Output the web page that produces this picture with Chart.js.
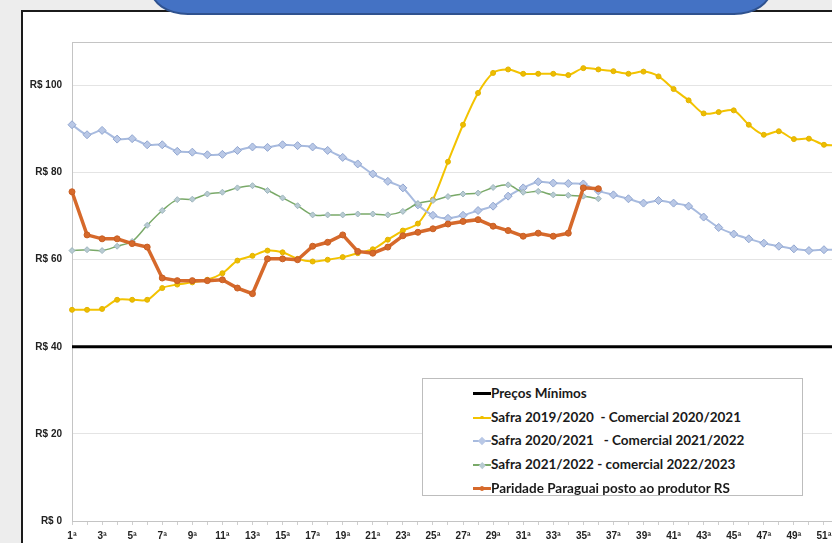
<!DOCTYPE html>
<html>
<head>
<meta charset="utf-8">
<script src="https://cdn.jsdelivr.net/npm/chart.js@4.4.0/dist/chart.umd.min.js"></script>
<style>
html, body { margin: 0; padding: 0; width: 832px; height: 543px; overflow: hidden; background: #ededed; }
#painel { position: absolute; left: 21px; top: 10px; width: 900px; height: 600px; background: #fff;
  border-left: 2px solid #1b1b1b; border-top: 2px solid #1b1b1b; }
#faixa { position: absolute; left: 150px; top: -40px; width: 618px; height: 51px; background: #4472c4;
  border: 2px solid #2f528f; border-radius: 0 0 38px 38px / 0 0 26px 26px; z-index: 3; }
#grafico { position: absolute; left: 0; top: 0; }
#legenda { position: absolute; left: 422px; top: 378px; width: 381px; height: 118px; background: #fff;
  border: 1px solid #bdbdbd; padding-top: 3px; box-sizing: border-box;
  font-family: Lato, sans-serif; font-weight: 700; font-size: 13.5px; color: #1a1a1a; }
#legenda .item { position: relative; height: 23.7px; line-height: 23.7px; padding-left: 68px; white-space: pre; }
#legenda .linha { position: absolute; left: 50px; width: 18px; top: 50%; }
#legenda .marca { position: absolute; left: 55px; top: 50%; }
</style>
</head>
<body>
<div id="painel"></div>
<div id="faixa"></div>
<canvas id="grafico" width="850" height="560"></canvas>
<div id="legenda"></div>
<script>
const semanas = ["1ª", "2ª", "3ª", "4ª", "5ª", "6ª", "7ª", "8ª", "9ª", "10ª", "11ª", "12ª", "13ª",
    "14ª", "15ª", "16ª", "17ª", "18ª", "19ª", "20ª", "21ª", "22ª", "23ª", "24ª", "25ª", "26ª",
    "27ª", "28ª", "29ª", "30ª", "31ª", "32ª", "33ª", "34ª", "35ª", "36ª", "37ª", "38ª", "39ª",
    "40ª", "41ª", "42ª", "43ª", "44ª", "45ª", "46ª", "47ª", "48ª", "49ª", "50ª", "51ª", "52ª"]; // 52 semanas

const precoMinimo = [40, 40, 40, 40, 40, 40, 40, 40, 40, 40, 40, 40, 40, 40, 40, 40, 40, 40, 40, 40,
    40, 40, 40, 40, 40, 40, 40, 40, 40, 40, 40, 40, 40, 40, 40, 40, 40, 40, 40, 40,
    40, 40, 40, 40, 40, 40, 40, 40, 40, 40, 40, 40];

const safra1920 = [48.5, 48.5, 48.7, 50.8, 50.8, 50.8, 53.5, 54.3, 54.8, 55.4,
    56.9, 59.8, 60.9, 62.1, 61.7, 60.2, 59.6, 60.0, 60.6, 61.5,
    62.4, 64.6, 66.7, 68.3, 73.8, 82.5, 91.0, 98.3, 102.9, 103.7,
    102.7, 102.7, 102.7, 102.4, 104.0, 103.7, 103.3, 102.7, 103.2, 102.1,
    99.2, 96.6, 93.6, 93.9, 94.3, 91.0, 88.7, 89.5, 87.7, 87.8,
    86.4, 86.3];

const safra2021 = [91.0, 88.7, 89.7, 87.7, 87.8, 86.4, 86.4, 84.9, 84.7, 84.1,
    84.2, 85.1, 85.9, 85.8, 86.4, 86.2, 85.9, 85.1, 83.5, 82.0,
    79.7, 78.0, 76.5, 72.6, 70.2, 69.5, 70.2, 71.3, 72.3, 74.6,
    76.5, 77.9, 77.6, 77.5, 77.4, 75.8, 74.9, 74.0, 73.0, 73.6,
    73.0, 72.3, 69.8, 67.4, 65.9, 64.8, 63.8, 63.1, 62.5, 62.1,
    62.3, 62.3];

const safra2122 = [62.1, 62.3, 62.1, 63.1, 64.2, 67.9, 71.3, 73.8, 73.9, 75.1,
    75.5, 76.5, 77.0, 75.9, 74.2, 72.4, 70.3, 70.3, 70.3, 70.5,
    70.5, 70.3, 71.1, 72.9, 73.6, 74.5, 75.1, 75.3, 76.6, 77.2,
    75.5, 75.7, 74.9, 74.8, 74.6, 74.0];

const paridade = [75.6, 65.7, 64.8, 64.8, 63.7, 62.9, 55.8, 55.2, 55.2, 55.2,
    55.4, 53.5, 52.2, 60.2, 60.2, 60.0, 63.1, 64.0, 65.7, 61.9,
    61.5, 62.9, 65.5, 66.3, 67.1, 68.2, 68.8, 69.2, 67.7, 66.7,
    65.4, 66.1, 65.4, 66.1, 76.5, 76.3];

const data = {
    labels: semanas,
    datasets: [{
        label: 'Preços Mínimos',
        data: precoMinimo,
        borderColor: '#000000',
        borderWidth: 3,
        pointRadius: 0,
        order: 5
    },
    {
        label: 'Safra 2019/2020  - Comercial 2020/2021',
        data: safra1920,
        borderColor: '#f3c300',
        borderWidth: 2,
        tension: 0.3,
        pointStyle: 'circle',
        pointRadius: 2.5,
        pointBackgroundColor: '#eebd00',
        pointBorderColor: '#e2b300',
        pointBorderWidth: 1,
        order: 4
    },
    {
        label: 'Safra 2020/2021   - Comercial 2021/2022',
        data: safra2021,
        borderColor: '#a8bbdf',
        borderWidth: 2,
        tension: 0.25,
        pointStyle: 'rectRot',
        pointRadius: 4,
        pointBackgroundColor: '#b9c8e6',
        pointBorderColor: '#91a6d0',
        pointBorderWidth: 1,
        order: 3
    },
    {
        label: 'Safra 2021/2022 - comercial 2022/2023',
        data: safra2122,
        borderColor: '#79a968',
        borderWidth: 1.5,
        tension: 0.3,
        pointStyle: 'rectRot',
        pointRadius: 3,
        pointBackgroundColor: '#b8cbd2',
        pointBorderColor: '#9db5bd',
        pointBorderWidth: 1,
        order: 2
    },
    {
        label: 'Paridade Paraguai posto ao produtor RS',
        data: paridade,
        borderColor: '#d6692b',
        borderWidth: 3.5,
        pointStyle: 'circle',
        pointRadius: 3,
        pointBackgroundColor: '#d6692b',
        pointBorderColor: '#c85e22',
        pointBorderWidth: 1,
        order: 1
    }]
};

// moldura cinza da área de plotagem
const moldura = {
    id: 'moldura',
    beforeDatasetsDraw(chart) {
        const a = chart.chartArea, ctx = chart.ctx;
        ctx.save();
        ctx.strokeStyle = '#c4c4c4';
        ctx.lineWidth = 1;
        ctx.strokeRect(a.left + 0.5, a.top + 0.5, a.right - a.left, a.bottom - a.top);
        ctx.restore();
    }
};

const config = {
    type: 'line',
    data: data,
    options: {
        responsive: false,
        animation: false,
        devicePixelRatio: 1,
        layout: { padding: { left: 22, top: 42, right: 11, bottom: 9 } },
        plugins: {
            legend: { display: false },
            tooltip: { enabled: false }
        },
        scales: {
            x: {
                offset: false,
                afterFit: s => { s.height = 30; },
                grid: { drawOnChartArea: false, color: '#cfcfcf', tickLength: 4 },
                border: { color: '#c4c4c4' },
                ticks: {
                    autoSkip: false, maxRotation: 0, padding: 5, color: '#222',
                    font: { family: 'Liberation Sans', size: 10, weight: 'bold' },
                    callback: (v, i) => (i % 2 === 0 ? semanas[i] : '')
                }
            },
            y: {
                min: 0,
                max: 110,
                afterFit: s => { s.width = 50; },
                afterBuildTicks: s => { s.ticks = s.ticks.filter(t => t.value % 20 === 0); },
                grid: { color: '#e4e4e4', drawTicks: false },
                border: { color: '#c4c4c4' },
                ticks: {
                    stepSize: 20, padding: 10, color: '#222',
                    font: { family: 'Liberation Sans', size: 10, weight: 'bold' },
                    callback: v => 'R$ ' + v
                }
            }
        }
    },
    plugins: [moldura]
};

const myChart = new Chart(document.getElementById('grafico'), config);

// legenda em HTML, montada a partir das séries
const legenda = document.getElementById('legenda');
data.datasets.forEach(ds => {
    const item = document.createElement('div');
    item.className = 'item';
    const linha = document.createElement('span');
    linha.className = 'linha';
    linha.style.height = ds.borderWidth + 'px';
    linha.style.marginTop = (-ds.borderWidth / 2) + 'px';
    linha.style.background = ds.borderColor;
    item.appendChild(linha);
    if (ds.pointRadius) {
        const m = document.createElement('span');
        m.className = 'marca';
        const r = ds.pointRadius;
        m.style.width = m.style.height = (r * 1.5) + 'px';
        m.style.marginTop = (-r * 0.75) + 'px';
        m.style.left = (59 - r * 0.75) + 'px';
        m.style.background = ds.pointBackgroundColor;
        if (ds.pointStyle === 'rectRot') m.style.transform = 'rotate(45deg)';
        else m.style.borderRadius = '50%';
        item.appendChild(m);
    }
    item.appendChild(document.createTextNode(ds.label));
    legenda.appendChild(item);
});
</script>
</body>
</html>
